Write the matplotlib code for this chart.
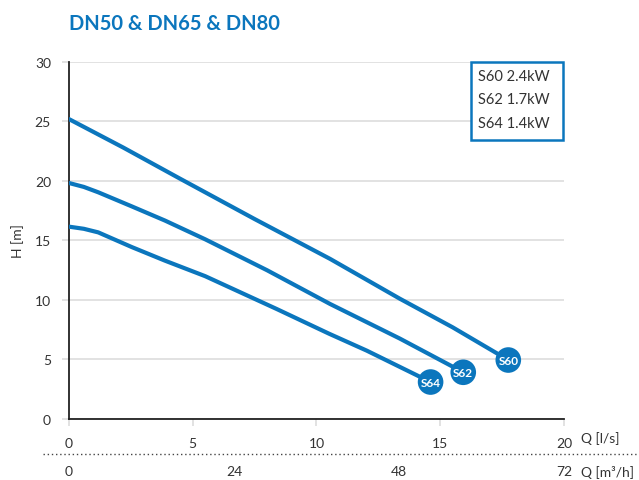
import matplotlib
matplotlib.use("Agg")
import matplotlib.pyplot as plt
from matplotlib.lines import Line2D
from matplotlib.patches import Rectangle

plt.rcParams['font.family'] = ['Lato', 'DejaVu Sans']

BLUE = '#0B76BD'
TEXT = '#333333'
GRID = '#dddddd'

# pump curves, Q [l/s] vs H [m]
q_s60 = [0, 2.2, 4.48, 7.5, 10.55, 13.37, 15.5, 17.75]
h_s60 = [25.2, 22.8, 20.2, 16.8, 13.45, 10.1, 7.7, 4.95]
q_s62 = [0, 0.6, 1.18, 2.53, 3.88, 5.5, 8.0, 10.55, 13.37, 15.93]
h_s62 = [19.83, 19.5, 19.05, 17.87, 16.67, 15.1, 12.5, 9.66, 6.75, 3.92]
q_s64 = [0, 0.6, 1.18, 2.53, 3.88, 5.5, 8.39, 10.5, 12.03, 14.61]
h_s64 = [16.16, 15.98, 15.68, 14.45, 13.3, 12.0, 9.24, 7.17, 5.74, 3.1]

series = [("S60", q_s60, h_s60), ("S62", q_s62, h_s62), ("S64", q_s64, h_s64)]
legend_lines = ["S60 2.4kW", "S62 1.7kW", "S64 1.4kW"]

x_ticks = [0, 5, 10, 15, 20]
y_ticks = [0, 5, 10, 15, 20, 25, 30]
m3h_ticks = [0, 24, 48, 72]

fig = plt.figure(figsize=(6.39, 4.81), dpi=100)
ax = fig.add_axes([0.108, 0.127, 0.7746, 0.742])

for name, q, h in series:
    ax.plot(q, h, color=BLUE, lw=3.0, solid_capstyle='round',
            solid_joinstyle='round', zorder=3)
    ax.scatter([q[-1]], [h[-1]], s=340, color=BLUE, zorder=4, edgecolors='none')
    ax.text(q[-1], h[-1], name, color='white', fontsize=8.5, fontweight='bold',
            ha='center', va='center', zorder=5)

ax.set_xlim(0, 20)
ax.set_ylim(0, 30)
ax.set_xticks(x_ticks)
ax.set_yticks(y_ticks)
ax.grid(axis='y', color=GRID, lw=1.2)
ax.set_axisbelow(True)
for s in ['top', 'right']:
    ax.spines[s].set_visible(False)
for s in ['left', 'bottom']:
    ax.spines[s].set_color('#222222')
    ax.spines[s].set_linewidth(1.3)
ax.tick_params(axis='both', colors=GRID, labelcolor=TEXT, labelsize=10,
               length=5, width=1.2)
ax.tick_params(axis='x', pad=8)
ax.tick_params(axis='y', pad=8)
ax.set_ylabel("H [m]", color=TEXT, fontsize=10, labelpad=8)

ax.text(20.7, -1.6, "Q [l/s]", color=TEXT, fontsize=10, ha='left', va='center',
        clip_on=False)

sec = ax.secondary_xaxis(-0.118, functions=(lambda q: q * 3.6, lambda m: m / 3.6))
sec.set_xticks(m3h_ticks)
sec.spines['bottom'].set_visible(False)
sec.tick_params(length=0, labelsize=10, labelcolor=TEXT, pad=3)
ax.text(20.7, -4.45, "Q [m³/h]", color=TEXT, fontsize=10, ha='left', va='center',
        clip_on=False)

fig.add_artist(Line2D([0.067, 1.0], [0.054, 0.054], transform=fig.transFigure,
                      color='#444444', lw=1.0, ls=(0, (1, 2))))

fig.text(0.108, 0.95, "DN50 & DN65 & DN80", color=BLUE, fontsize=14.5,
         fontweight='bold', ha='left', va='center')

# legend box
ax.add_patch(Rectangle((0.812, 0.7815), 0.186, 0.2185, transform=ax.transAxes,
                       fc='white', ec=BLUE, lw=1.8, clip_on=False, zorder=6))
for i, line in enumerate(legend_lines):
    ax.text(0.826, 0.961 - i * 0.066, line, transform=ax.transAxes, ha='left',
            va='center', fontsize=10.5, color=TEXT, zorder=7)

fig.savefig("out.png", dpi=100)
